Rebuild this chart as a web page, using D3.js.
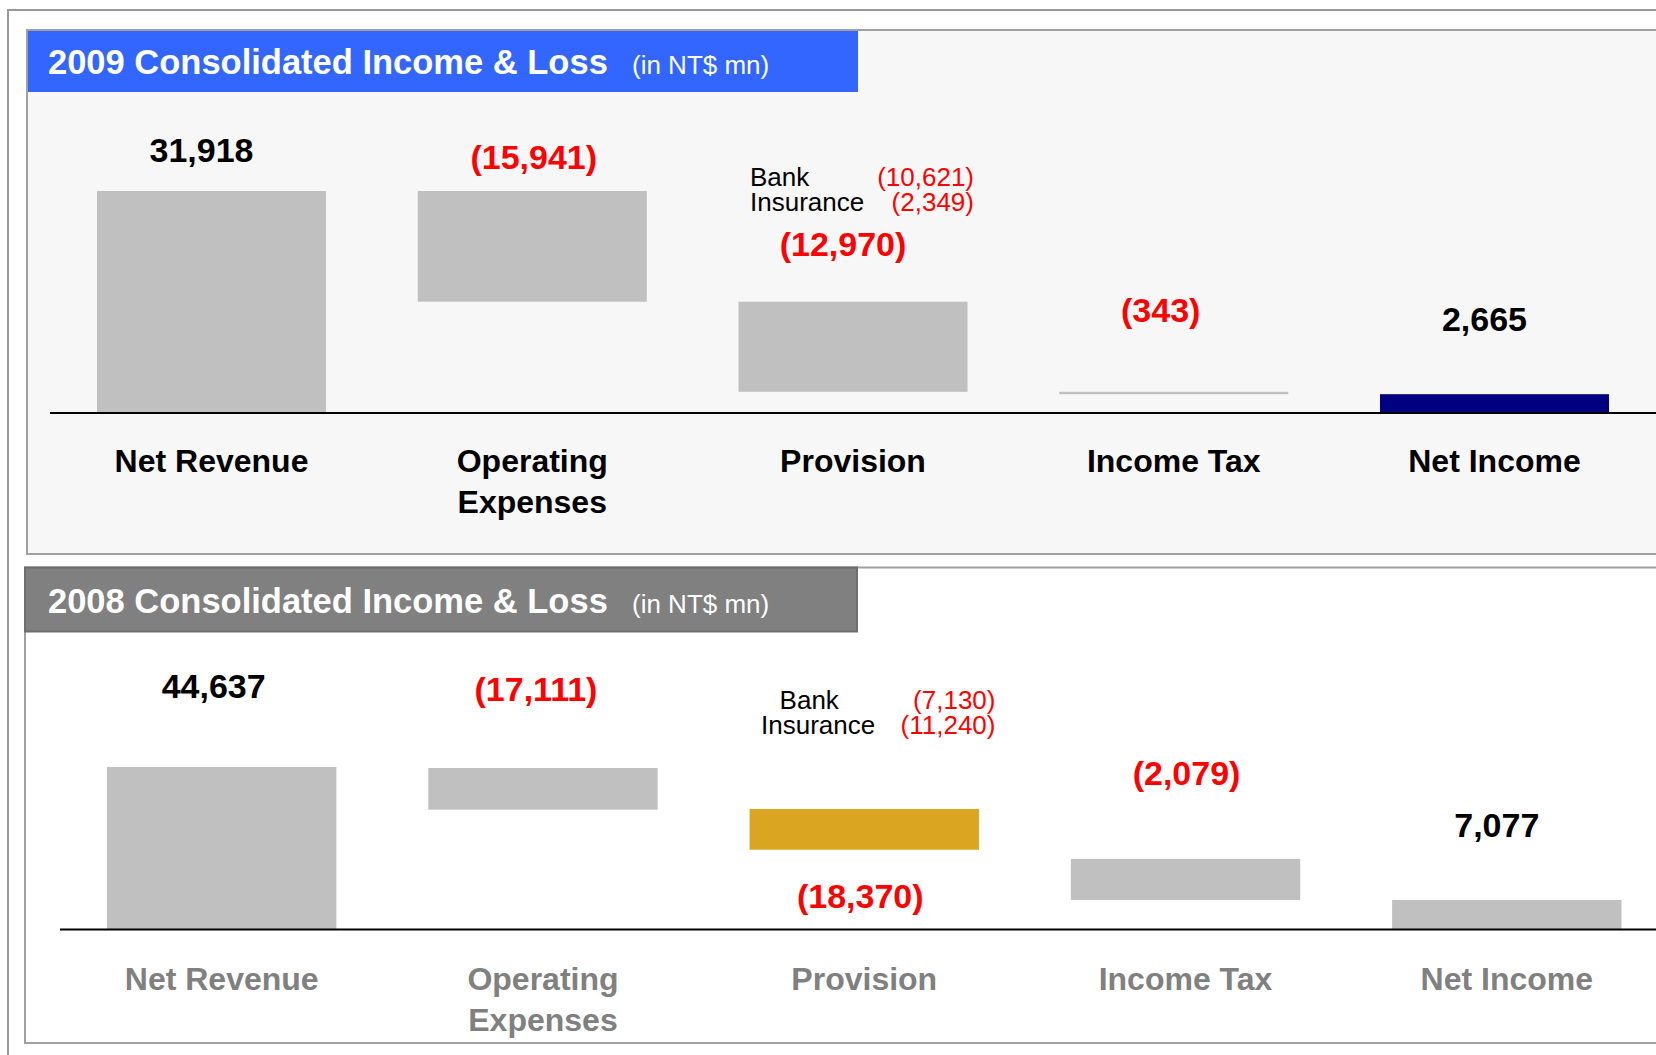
<!DOCTYPE html>
<html><head><meta charset="utf-8">
<script src="https://cdn.jsdelivr.net/npm/d3@7"></script>
<style>html,body{margin:0;padding:0;background:#fff;} svg{display:block;}</style>
</head><body>
<svg id="chart" width="1656" height="1055"></svg>
<script>
// ---------------- DATA ----------------
const categories = ["Net Revenue", "Operating Expenses", "Provision", "Income Tax", "Net Income"];
const categoryLines = [["Net Revenue"], ["Operating", "Expenses"], ["Provision"], ["Income Tax"], ["Net Income"]];

const titles = ["2009 Consolidated Income & Loss", "2008 Consolidated Income & Loss"];
const unitLabel = "(in NT$ mn)";

// 2009 (NT$ mn)
const values2009 = [31918, -15941, -12970, -343, 2665];
// 2008 (NT$ mn)
const values2008 = [44637, -17111, -18370, -2079, 7077];

// Provision breakdown
const breakdownLabels = ["Bank", "Insurance"];
const breakdown2009 = [-10621, -2349];
const breakdown2008 = [-7130, -11240];

// 2008 bars are drawn schematically in the source (not to scale): extents, in chart units
const drawnHigh2008 = [44637, 44360, 33060, 19290, 7990];
const drawnLow2008  = [0, 32870, 21850, 7990, 0];

// ---------------- DRAWING ----------------
const FONT = '"Liberation Sans", Arial, Helvetica, sans-serif';
const fmt = d3.format(",");
const fmtVal = v => v < 0 ? "(" + fmt(-v) + ")" : fmt(v);

const svg = d3.select("#chart");
svg.append("rect").attr("width", 1656).attr("height", 1055).attr("fill", "#fff");
svg.append("rect").attr("x", 8).attr("y", 10).attr("width", 1700).attr("height", 1100)
  .attr("fill", "none").attr("stroke", "#999").attr("stroke-width", 2);

// waterfall extents for 2009
function waterfall(vals) {
  const out = [];
  let run = 0;
  vals.forEach((v, i) => {
    if (i === vals.length - 1) { out.push({lo: 0, hi: v}); }
    else if (v >= 0) { out.push({lo: run, hi: run + v}); run += v; }
    else { out.push({lo: run + v, hi: run}); run += v; }
  });
  return out;
}

function drawPanel(p) {
  const g = svg.append("g");
  g.append("rect").attr("x", p.frame.x).attr("y", p.frame.y).attr("width", 1700).attr("height", p.frame.h)
    .attr("fill", p.bg).attr("stroke", "#a0a0a0").attr("stroke-width", 2);
  g.append("rect").attr("x", p.header.x).attr("y", p.header.y).attr("width", p.header.w).attr("height", p.header.h)
    .attr("fill", p.header.fill).attr("stroke", p.header.stroke || "none").attr("stroke-width", 2);
  g.append("text").attr("x", 48).attr("y", p.titleY).attr("fill", "#fff")
    .attr("font-family", FONT).attr("font-weight", "bold").attr("font-size", 34.5).text(p.title);
  g.append("text").attr("x", 632).attr("y", p.titleY).attr("fill", "#fff")
    .attr("font-family", FONT).attr("font-size", 26).text(unitLabel);

  const x = d3.scaleBand().domain(categories).range(p.xRange).paddingInner(0.286).paddingOuter(0);
  const y = d3.scaleLinear().domain([0, p.yMax]).range([p.baseY, p.topY]);
  const bw = x.bandwidth();

  const bars = p.extents.map((e, i) => ({cat: categories[i], lo: e.lo, hi: e.hi, v: p.values[i], i}));

  g.selectAll("rect.bar").data(bars).join("rect").attr("class", "bar")
    .attr("x", d => x(d.cat)).attr("width", bw)
    .attr("y", d => y(d.hi)).attr("height", d => Math.max(y(d.lo) - y(d.hi), 0))
    .attr("fill", d => p.barColors[d.i]);

  g.append("line").attr("x1", p.lineX1).attr("x2", 1660).attr("y1", p.lineY).attr("y2", p.lineY)
    .attr("stroke", "#000").attr("stroke-width", 2);

  // value labels
  g.selectAll("text.val").data(bars).join("text").attr("class", "val")
    .attr("x", d => x(d.cat) + bw / 2 + p.labelDx[d.i])
    .attr("y", d => (p.labelAnchor[d.i] === "bottom" ? y(d.lo) : y(d.hi)) + p.labelDy[d.i])
    .attr("text-anchor", "middle").attr("font-family", FONT).attr("font-weight", "bold").attr("font-size", 34)
    .attr("fill", d => d.v < 0 ? "#ff0000" : "#000").text(d => fmtVal(d.v));

  // category labels
  categories.forEach((c, i) => {
    const t = g.append("text").attr("text-anchor", "middle").attr("font-family", FONT)
      .attr("font-weight", "bold").attr("font-size", 32).attr("fill", p.catColor);
    categoryLines[i].forEach((ln, k) => {
      t.append("tspan").attr("x", x(c) + bw / 2).attr("y", p.catY + k * 41).text(ln);
    });
  });

  // provision breakdown
  breakdownLabels.forEach((lab, k) => {
    g.append("text").attr("x", p.bd.labelX[k]).attr("y", p.bd.y[k]).attr("font-family", FONT)
      .attr("font-size", 26).attr("fill", "#000").text(lab);
    g.append("text").attr("x", p.bd.valueRight).attr("y", p.bd.y[k]).attr("text-anchor", "end")
      .attr("font-family", FONT).attr("font-size", 26).attr("fill", "#ff0000").text(fmtVal(p.bd.values[k]));
  });
}

drawPanel({
  title: titles[0],
  frame: {x: 27, y: 30, h: 524}, bg: "#f7f7f7",
  header: {x: 28, y: 31, w: 830, h: 61, fill: "#3366ff"},
  titleY: 74,
  xRange: [97, 1609],
  yMax: values2009[0], baseY: 412.7, topY: 191,
  values: values2009,
  extents: waterfall(values2009),
  barColors: ["#c0c0c0", "#c0c0c0", "#c0c0c0", "#c0c0c0", "#000080"],
  lineX1: 50, lineY: 413,
  labelDx: [-10, 1.5, -10, -13, -10],
  labelAnchor: ["top", "top", "top", "top", "top"],
  labelDy: [-28.7, -21.7, -45.7, -70.1, -63.2],
  catY: 472, catColor: "#000",
  bd: {labelX: [750, 750], y: [185.7, 210.7], valueRight: 974, values: breakdown2009}
});

drawPanel({
  title: titles[1],
  frame: {x: 25, y: 567.5, h: 475.5}, bg: "#ffffff",
  header: {x: 25, y: 567.5, w: 832, h: 64, fill: "#808080", stroke: "#6e6e6e"},
  titleY: 613,
  xRange: [107, 1621.5],
  yMax: values2008[0], baseY: 929, topY: 767,
  values: values2008,
  extents: drawnHigh2008.map((h, i) => ({lo: drawnLow2008[i], hi: h})),
  barColors: ["#c0c0c0", "#c0c0c0", "#daa520", "#c0c0c0", "#c0c0c0"],
  lineX1: 60, lineY: 929.5,
  labelDx: [-8, -7, -4, 1, -10],
  labelAnchor: ["top", "top", "bottom", "top", "top"],
  labelDy: [-69, -67.3, 58.6, -74, -63.3],
  catY: 990, catColor: "#808080",
  bd: {labelX: [779.6, 761], y: [708.7, 733.7], valueRight: 995.5, values: breakdown2008}
});
</script>
</body></html>
